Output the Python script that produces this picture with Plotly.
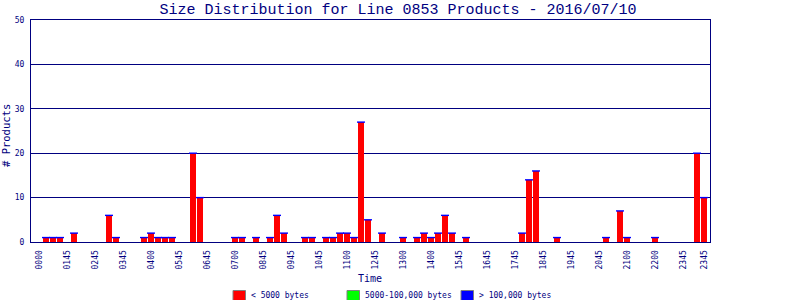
import plotly.graph_objects as go

# ---- data ----
slot_index = [1, 2, 3, 5, 10, 11, 15, 16, 17, 18, 19, 22, 23,
              28, 29, 31, 33, 34, 35, 38, 39, 41, 42, 43, 44, 45, 46, 47, 49,
              52, 54, 55, 56, 57, 58, 59, 61, 69, 70, 71, 74, 81, 83, 84, 88, 94, 95]
small_counts = [1, 1, 1, 2, 6, 1, 1, 2, 1, 1, 1, 20, 10,
                1, 1, 1, 1, 6, 2, 1, 1, 1, 1, 2, 2, 1, 27, 5, 2,
                1, 1, 2, 1, 2, 6, 2, 1, 2, 14, 16, 1, 1, 7, 1, 1, 20, 10]

tick_slots = [0, 4, 8, 12, 16, 20, 24, 28, 32, 36, 40, 44, 48, 52, 56, 60,
              64, 68, 72, 76, 80, 84, 88, 92, 95]
tick_labels = ["0000", "0145", "0245", "0345", "0400", "0545", "0645", "0700",
               "0845", "0945", "1045", "1100", "1245", "1300", "1400", "1545",
               "1645", "1745", "1845", "1945", "2045", "2100", "2200", "2345", "2345"]

y_ticks = [0, 10, 20, 30, 40, 50]

legend_labels = ["< 5000 bytes", "5000-100,000 bytes", "> 100,000 bytes"]
legend_colors = ["#FF0000", "#00FF00", "#0000FF"]

title_text = "Size Distribution for Line 0853 Products - 2016/07/10"

# ---- styling ----
NAVY = "#000080"
FONT = "DejaVu Sans Mono"
TFONT = "Liberation Mono"
W, H = 800, 300
L, R, T, B = 31, 90, 20, 58
PW = W - L - R
PH = H - T - B


def px2x(px):
    return (px - L) / PW


def px2y(py):
    return (H - B - py) / PH


fig = go.Figure()
fig.add_trace(go.Bar(
    x=slot_index, y=small_counts, width=0.81,
    marker=dict(color="#FF0000", line=dict(width=0)),
    showlegend=False, hoverinfo="x+y",
))
fig.add_trace(go.Scatter(
    x=slot_index, y=small_counts, mode="markers",
    marker=dict(symbol="line-ew", size=5.7,
                line=dict(color="#0000FF", width=1.4)),
    showlegend=False, hoverinfo="skip",
))

slot_px = 7.0
x0 = -(39 - L) / slot_px
fig.update_xaxes(
    range=[x0, x0 + PW / slot_px],
    tickmode="array", tickvals=tick_slots, ticktext=tick_labels,
    tickangle=-90, tickfont=dict(family=FONT, size=8, color=NAVY),
    showgrid=False, zeroline=False,
    showline=True, mirror=True, linecolor=NAVY, linewidth=1,
    ticks="", ticklabelstandoff=4,
)
fig.update_yaxes(
    range=[0, 50], tickmode="array", tickvals=y_ticks,
    tickfont=dict(family=FONT, size=8, color=NAVY),
    showgrid=True, gridcolor=NAVY, gridwidth=1, zeroline=False,
    showline=True, mirror=True, linecolor=NAVY, linewidth=1,
    ticks="", ticklabelstandoff=4,
)

annotations = [
    dict(text="Time", x=px2x(370), y=px2y(278.5), xref="paper", yref="paper",
         xanchor="center", yanchor="middle", showarrow=False,
         font=dict(family=FONT, size=10, color=NAVY)),
    dict(text="# Products", x=px2x(6), y=px2y(136), xref="paper", yref="paper",
         xanchor="center", yanchor="middle", showarrow=False, textangle=-90,
         font=dict(family=FONT, size=10.5, color=NAVY)),
]
shapes = []
sq_left = [233, 347, 461]
for lab, col, sx in zip(legend_labels, legend_colors, sq_left):
    shapes.append(dict(type="rect", xref="paper", yref="paper",
                       x0=px2x(sx), x1=px2x(sx + 12.5),
                       y0=px2y(290.5), y1=px2y(303),
                       fillcolor=col, line=dict(color="#808080", width=1)))
    annotations.append(dict(text=lab, x=px2x(sx + 16), y=px2y(295.5),
                            xref="paper", yref="paper", xanchor="left",
                            yanchor="middle", showarrow=False,
                            font=dict(family=FONT, size=8, color=NAVY)))

fig.update_layout(
    width=W, height=H, autosize=False,
    margin=dict(l=L, r=R, t=T, b=B, pad=0),
    paper_bgcolor="white", plot_bgcolor="white",
    title=dict(text=title_text, x=0.4975, xanchor="center",
               y=1 - 8.5 / H, yanchor="middle", yref="container",
               font=dict(family=TFONT, size=15, color=NAVY)),
    annotations=annotations, shapes=shapes,
    bargap=0, showlegend=False,
)

fig.write_html("out.html")
